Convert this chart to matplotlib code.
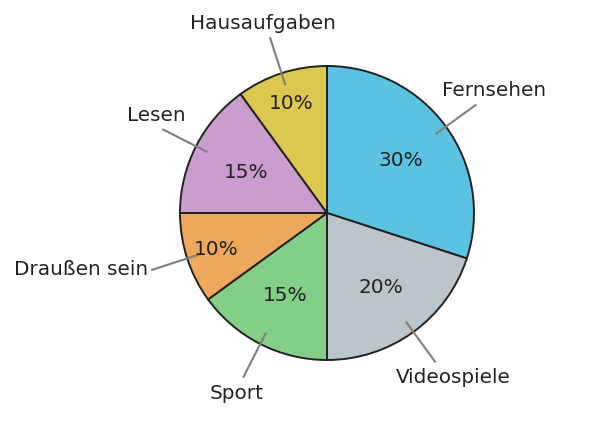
import numpy as np
import matplotlib.pyplot as plt

labels = ["Fernsehen", "Videospiele", "Sport", "Draußen sein", "Lesen", "Hausaufgaben"]
shares = [30, 20, 15, 10, 15, 10]
colors = ["#5bc2e1", "#bcc6ca", "#83cf87", "#eda85c", "#c99ece", "#dcc751"]

R_PX = 147.0
CX, CY = 327, 214
W, H = 593, 439


def main():
    fig = plt.figure(figsize=(W / 100, H / 100), dpi=100)
    half = 200
    ax = fig.add_axes([(CX - half) / W, (H - CY - half) / H, 2 * half / W, 2 * half / H])
    lim = half / R_PX

    wedges, _ = ax.pie(shares, colors=colors, startangle=90, counterclock=False,
                       radius=1.0, center=(0, 0), frame=True,
                       wedgeprops=dict(edgecolor="#222222", linewidth=1.4))
    ax.set_xlim(-lim, lim)
    ax.set_ylim(-lim, lim)
    ax.axis("off")

    for w, lab, v in zip(wedges, labels, shares):
        mid = np.deg2rad((w.theta1 + w.theta2) / 2)
        c, s = np.cos(mid), np.sin(mid)
        # small slices get their percentage pushed further out
        pr = 0.79 if v <= 10 else 0.62
        ax.text(pr * c, pr * s, f"{v}%", ha="center", va="center",
                fontsize=14.4, color="#222222")
        ax.plot([0.92 * c, 1.25 * c], [0.92 * s, 1.25 * s], color="#7f7f7f", lw=1.5)
        if abs(s) < 0.4:
            ax.annotate(lab, (1.25 * c, 1.25 * s), xytext=(np.sign(c) * 3, 1),
                        textcoords="offset points", ha="right" if c < 0 else "left",
                        va="center", fontsize=14.4, color="#222222")
        else:
            dx = 13 if c > 0 else -5
            ax.annotate(lab, (1.25 * c, 1.25 * s),
                        xytext=(dx, np.sign(s) * 11),
                        textcoords="offset points", ha="center", va="center",
                        fontsize=14.4, color="#222222")

    fig.savefig("out.png", dpi=100, facecolor="white")


if __name__ == '__main__':
    main()
